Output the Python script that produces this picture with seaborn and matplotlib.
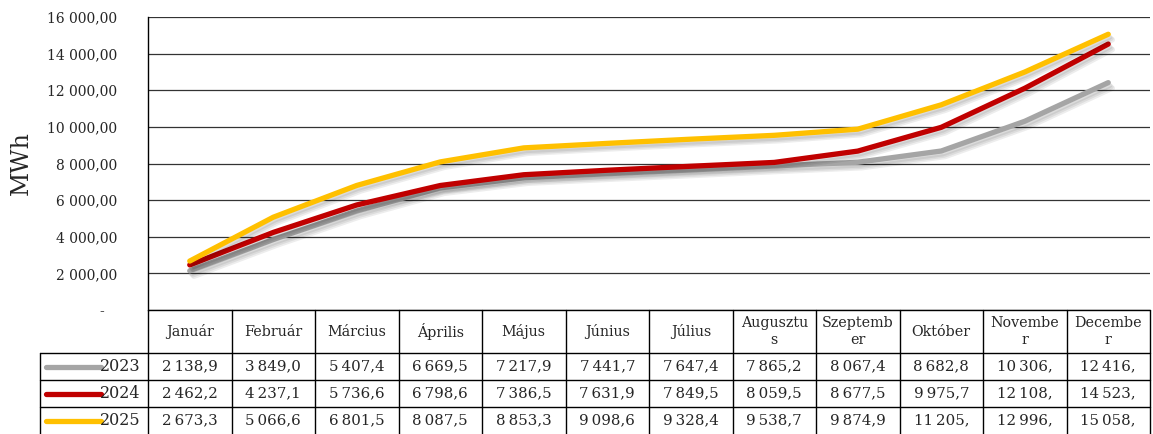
import matplotlib
matplotlib.use("Agg")
import matplotlib.pyplot as plt
import matplotlib.patheffects as pe
import numpy as np
import pandas as pd
import seaborn as sns

months = ["Január", "Február", "Március", "Április", "Május", "Június",
          "Július", "Augusztus", "Szeptember", "Október", "November", "December"]
# header cells wrap like in the original sheet
header = ["Január", "Február", "Március", "Április", "Május", "Június",
          "Július", "Augusztu\ns", "Szeptemb\ner", "Október", "Novembe\nr", "Decembe\nr"]
years = ["2023", "2024", "2025"]
v2023 = [2138.9, 3849.0, 5407.4, 6669.5, 7217.9, 7441.7, 7647.4, 7865.2, 8067.4, 8682.8, 10306.0, 12416.0]
v2024 = [2462.2, 4237.1, 5736.6, 6798.6, 7386.5, 7631.9, 7849.5, 8059.5, 8677.5, 9975.7, 12108.0, 14523.0]
v2025 = [2673.3, 5066.6, 6801.5, 8087.5, 8853.3, 9098.6, 9328.4, 9538.7, 9874.9, 11205.0, 12996.0, 15058.0]
colors = ["#A5A5A5", "#C00000", "#FFC000"]

series = {"2023": v2023, "2024": v2024, "2025": v2025}
df = pd.concat([pd.DataFrame({"pos": np.arange(len(months)), "MWh": v, "year": y})
                for y, v in series.items()])

sns.set_style("white")
plt.rcParams["font.family"] = ["DejaVu Serif"]

W, H = 1153, 434
fig = plt.figure(figsize=(W / 100, H / 100), dpi=100)
ax = fig.add_axes([148 / W, 124 / H, 1002 / W, 293 / H])

sns.lineplot(data=df, x="pos", y="MWh", hue="year", palette=colors, lw=3.8,
             legend=False, ax=ax, zorder=3)
# soft drop shadow, a few faint offset copies
shadow = [pe.SimpleLineShadow(offset=(d, -d - 1), shadow_color="k", alpha=0.07) for d in (1, 2, 3)]
for ln in ax.lines:
    ln.set_solid_capstyle("round")
    ln.set_solid_joinstyle("round")
    ln.set_path_effects(shadow + [pe.Normal()])

ax.set_xlim(-0.5, 11.5)
ax.set_ylim(0, 16000)
ax.set_yticks(range(0, 16001, 2000))


def fmt(v, pos=None):
    if v == 0:
        return "-   "
    return f"{v:,.2f}".replace(",", " ").replace(".", ",")


ax.yaxis.set_major_formatter(matplotlib.ticker.FuncFormatter(fmt))
ax.tick_params(axis="y", length=0, pad=22, labelsize=10)
ax.set_xticks([])
ax.set_xlabel("")
ax.set_ylabel("")
ax.grid(axis="y", color="#333333", lw=0.9)
for s in ["top", "right", "bottom"]:
    ax.spines[s].set_visible(False)
ax.spines["left"].set_color("black")
ax.spines["left"].set_linewidth(1)
fig.text(21 / W, 1 - 163 / H, "MWh", rotation=90, fontsize=17, ha="center", va="center")

# data table under the plot
tax = fig.add_axes([148 / W, 0, 1002 / W, 124 / H])
tax.set_xlim(-0.5, 11.5)
tax.set_ylim(124, 0)
tax.axis("off")
left = -0.5 - 108 / 83.5
kw = dict(color="black", lw=1, clip_on=False)
tax.plot([-0.5, 11.5], [0, 0], **kw)
for yy in [43, 70, 97]:
    tax.plot([left, 11.5], [yy, yy], **kw)
for i in range(13):
    tax.plot([i - 0.5, i - 0.5], [0, 124], **kw)
tax.plot([left, left], [43, 124], **kw)

for i, h in enumerate(header):
    tax.text(i, 21.5, h, ha="center", va="center", fontsize=10.3, linespacing=1.25)


def cell(v):
    s = f"{v:,.1f}".replace(",", "\u2009").replace(".", ",")
    return s[:-1] if v >= 10000 else s


for r, (y, c) in enumerate(zip(years, colors)):
    yc = 56.5 + 27 * r
    tax.plot([left + 0.07, left + 0.73], [yc, yc], color=c, lw=3.8,
             solid_capstyle="round", clip_on=False)
    tax.text(-0.585, yc, y, ha="right", va="center", fontsize=11.5)
    for i, v in enumerate(series[y]):
        tax.text(i, yc, cell(v), ha="center", va="center", fontsize=10.8)

fig.savefig("out.png", dpi=100)
